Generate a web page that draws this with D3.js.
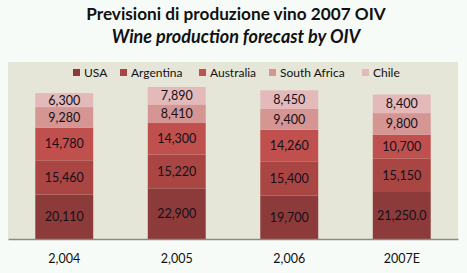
<!DOCTYPE html>
<html>
<head>
<meta charset="utf-8">
<script src="https://cdn.jsdelivr.net/npm/d3@7"></script>
<style>
  body { margin: 0; background: #f7fbf8; }
  svg { display: block; font-family: Lato, "Open Sans", sans-serif; }
</style>
</head>
<body>
<svg id="chart" width="467" height="273"></svg>
<script>
// categories and series
var years = ["2,004", "2,005", "2,006", "2007E"];
var seriesNames = ["USA", "Argentina", "Australia", "South Africa", "Chile"];
var usa = [20110, 22900, 19700, 21250];
var argentina = [15460, 15220, 15400, 15150];
var australia = [14780, 14300, 14260, 10700];
var southAfrica = [9280, 8410, 9400, 9800];
var chile = [6300, 7890, 8450, 8400];
var labelText = [
  ["20,110", "22,900", "19,700", "21,250.0"],
  ["15,460", "15,220", "15,400", "15,150"],
  ["14,780", "14,300", "14,260", "10,700"],
  ["9,280", "8,410", "9,400", "9,800"],
  ["6,300", "7,890", "8,450", "8,400"]
];
var colors = ["#8d3b3a", "#a94543", "#c0504d", "#d49593", "#e4b9b9"];

var svg = d3.select("#chart");
var plot = {left: 8, right: 458, top: 62, bottom: 239};

// table for the stack
var table = years.map(function(y, i){
  return {year: y, USA: usa[i], Argentina: argentina[i], Australia: australia[i],
          "South Africa": southAfrica[i], Chile: chile[i]};
});
var stacked = d3.stack().keys(seriesNames)(table);

var x = d3.scaleBand().domain(years).range([plot.left, plot.right]).paddingInner(0.485).paddingOuter(0.2425);
var y = d3.scaleLinear().domain([0, 80000]).range([plot.bottom, plot.top]);

// plot background
svg.append("rect")
  .attr("x", plot.left).attr("y", plot.top)
  .attr("width", plot.right - plot.left).attr("height", plot.bottom - plot.top)
  .attr("fill", "#e6e6d8");

// titles
svg.append("text").attr("x", 236).attr("y", 20).attr("text-anchor", "middle")
  .attr("font-size", 17.2).attr("font-weight", "bold").attr("fill", "#111")
  .text("Previsioni di produzione vino 2007 OIV");
svg.append("text").attr("x", 236).attr("y", 43).attr("text-anchor", "middle")
  .attr("font-size", 18).attr("font-weight", "bold").attr("font-style", "italic").attr("fill", "#111")
  .text("Wine production forecast by OIV");

// bars
var groups = svg.selectAll(".series").data(stacked).enter().append("g")
  .attr("class", "series")
  .attr("fill", function(d, i){ return colors[i]; });
groups.selectAll("rect").data(function(d){ return d; }).enter().append("rect")
  .attr("x", function(d){ return x(d.data.year); })
  .attr("width", x.bandwidth())
  .attr("y", function(d){ return y(d[1]); })
  .attr("height", function(d){ return y(d[0]) - y(d[1]); });

// data labels
stacked.forEach(function(s, si){
  svg.selectAll(".lbl" + si).data(s).enter().append("text")
    .attr("x", function(d){ return x(d.data.year) + x.bandwidth() / 2; })
    .attr("y", function(d){ return (y(d[0]) + y(d[1])) / 2 + 4.5; })
    .attr("text-anchor", "middle")
    .attr("font-size", 12.5).attr("fill", "#160f18")
    .text(function(d, i){ return labelText[si][i]; });
});

// axis line + category labels
var xAxis = d3.axisBottom(x).tickSize(0).tickPadding(15);
var ax = svg.append("g").attr("transform", "translate(0," + plot.bottom + ")").call(xAxis);
ax.select(".domain").attr("stroke", "#8a8a8a").attr("stroke-width", 1.5);
ax.selectAll("text").attr("font-size", 12.5).attr("font-family", "Lato, sans-serif").attr("fill", "#111");

// legend
var legendX = [73, 120, 199, 269, 362];
var legend = svg.selectAll(".leg").data(seriesNames).enter().append("g")
  .attr("transform", function(d, i){ return "translate(" + legendX[i] + ",69)"; });
legend.append("rect").attr("width", 7).attr("height", 7)
  .attr("fill", function(d, i){ return colors[i]; });
legend.append("text").attr("x", 11).attr("y", 8).attr("font-size", 12).attr("fill", "#111")
  .text(function(d){ return d; });
</script>
</body>
</html>
